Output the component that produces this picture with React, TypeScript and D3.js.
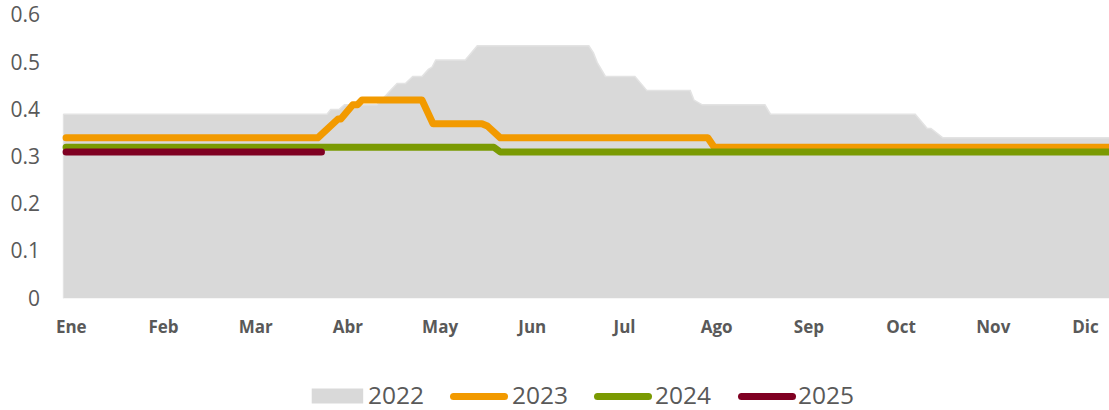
import * as d3 from 'd3';
import React from 'react';

// month position (0 = start of Ene) and value
const months = ['Ene', 'Feb', 'Mar', 'Abr', 'May', 'Jun', 'Jul', 'Ago', 'Sep', 'Oct', 'Nov', 'Dic'];
const yTicks = [0, 0.1, 0.2, 0.3, 0.4, 0.5, 0.6];
const yTickLabels = ['0', '0.1', '0.2', '0.3', '0.4', '0.5', '0.6'];

const pos2022 = [0, 2.86, 2.9, 2.99, 3.05, 3.4, 3.5, 3.57, 3.62, 3.71, 3.79, 3.89, 3.96, 4.0, 4.04, 4.36, 4.49, 5.7, 5.75, 5.79, 5.88, 6.2, 6.33, 6.8, 6.84, 6.93, 7.61, 7.67, 9.24, 9.37, 9.41, 9.54, 11.5];
const val2022 = [0.39, 0.39, 0.4, 0.4, 0.41, 0.41, 0.43, 0.445, 0.455, 0.455, 0.47, 0.47, 0.485, 0.49, 0.505, 0.505, 0.535, 0.535, 0.52, 0.5, 0.47, 0.47, 0.44, 0.44, 0.42, 0.41, 0.41, 0.39, 0.39, 0.36, 0.36, 0.34, 0.34];

const pos2023 = [0.03, 2.76, 2.98, 3.01, 3.14, 3.19, 3.24, 3.89, 4.01, 4.54, 4.6, 4.74, 6.99, 7.06, 11.5];
const val2023 = [0.34, 0.34, 0.38, 0.38, 0.41, 0.41, 0.42, 0.42, 0.37, 0.37, 0.365, 0.34, 0.34, 0.32, 0.32];

const pos2024 = [0.03, 4.67, 4.74, 11.5];
const val2024 = [0.32, 0.32, 0.31, 0.31];

const pos2025 = [0.03, 2.8];
const val2025 = [0.31, 0.31];

const legendNames = ['2022', '2023', '2024', '2025'];
const lineColors = ['#d9d9d9', '#f29a00', '#7a9a02', '#7f0022'];

const W = 1109;
const H = 410;
const textColor = '#595959';
const font = '"Open Sans", sans-serif';

export default function App() {
  const x = d3.scaleLinear().domain([0, 12]).range([63.3, 63.3 + 12 * 92.2]);
  const y = d3.scaleLinear().domain([0, 0.6]).range([298.3, 15.1]);

  const zip = (p: number[], v: number[]) => p.map((d, i) => [d, v[i]] as [number, number]);

  const area = d3
    .area<[number, number]>()
    .x((d) => x(d[0]))
    .y0(y(0))
    .y1((d) => y(d[1]));
  const line = d3
    .line<[number, number]>()
    .x((d) => x(d[0]))
    .y((d) => y(d[1]));

  const d22 = zip(pos2022, val2022);
  const series = [zip(pos2023, val2023), zip(pos2024, val2024), zip(pos2025, val2025)];

  // legend x positions
  const legendX = [311.7, 453.5, 597.5, 741.5];
  const legendTextX = [368, 512, 655, 798];

  return (
    <svg
      width={W}
      height={H}
      style={{ position: 'absolute', left: 0, top: 0, display: 'block' }}
      fontFamily={font}
    >
      <rect width={W} height={H} fill="#fff" />
      <path d={area(d22) || ''} fill="#d9d9d9" />
      <path d={line(d22) || ''} fill="none" stroke="#e3e3e3" strokeWidth={1.5} />
      <line x1={x(0)} x2={x(0)} y1={y(0)} y2={y(val2022[0])} stroke="#e3e3e3" strokeWidth={1} />

      {series.map((s, i) => (
        <path
          key={i}
          d={line(s) || ''}
          fill="none"
          stroke={lineColors[i + 1]}
          strokeWidth={7}
          strokeLinecap="round"
          strokeLinejoin="round"
        />
      ))}

      {yTicks.map((t, i) => (
        <text
          key={t}
          x={40}
          y={y(t)}
          dy="0.35em"
          textAnchor="end"
          fontSize={21}
          fill={textColor}
        >
          {yTickLabels[i]}
        </text>
      ))}

      {months.map((m, i) => (
        <text
          key={m}
          x={x(i) + 8}
          y={332.5}
          textAnchor="middle"
          fontSize={17}
          fontWeight="bold"
          fill={textColor}
        >
          {m}
        </text>
      ))}

      {legendNames.map((n, i) => (
        <g key={n}>
          {i === 0 ? (
            <rect x={legendX[i]} y={388.5} width={51.5} height={15} fill="#d9d9d9" />
          ) : (
            <line
              x1={legendX[i]}
              x2={legendX[i] + 51}
              y1={396.5}
              y2={396.5}
              stroke={lineColors[i]}
              strokeWidth={7}
              strokeLinecap="round"
            />
          )}
          <text x={legendTextX[i]} y={404.3} fontSize={24.5} fill={textColor}>
            {n}
          </text>
        </g>
      ))}
    </svg>
  );
}
